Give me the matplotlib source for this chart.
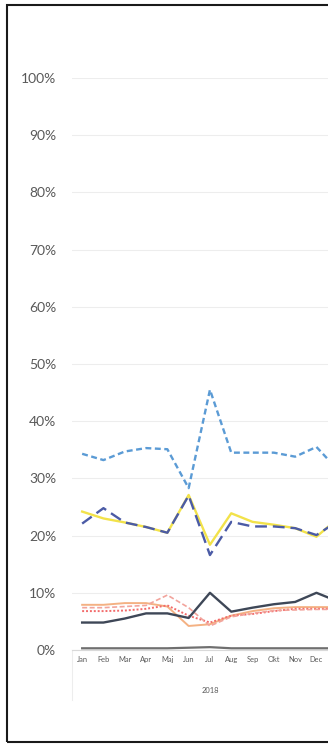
import numpy as np
import matplotlib
matplotlib.use("Agg")
import matplotlib.pyplot as plt
from matplotlib.patches import Rectangle

# Monthly shares (%) for 2018, plus first month of 2019 that runs off the edge
months = ["Jan", "Feb", "Mar", "Apr", "Maj", "Jun", "Jul", "Aug", "Sep", "Okt", "Nov", "Dec", "Jan"]
year_label = "2018"

light_blue = [34.3, 33.2, 34.7, 35.3, 35.1, 28.3, 45.5, 34.5, 34.5, 34.5, 33.8, 35.5, 31.5]
yellow = [24.2, 23.0, 22.3, 21.5, 20.5, 27.1, 18.4, 23.9, 22.4, 21.9, 21.3, 19.8, 23.0]
navy_dash = [22.1, 24.8, 22.3, 21.5, 20.5, 27.0, 16.6, 22.4, 21.6, 21.6, 21.3, 20.1, 22.5]
slate = [4.8, 4.8, 5.5, 6.4, 6.4, 5.6, 10.0, 6.7, 7.4, 8.0, 8.4, 10.0, 8.5]
peach = [7.9, 7.9, 8.2, 8.2, 7.6, 4.2, 4.5, 6.0, 6.8, 7.3, 7.5, 7.5, 7.5]
red_dot = [6.8, 6.8, 6.9, 7.2, 7.8, 6.0, 4.8, 6.0, 6.3, 6.8, 7.2, 7.2, 7.2]
pink_dash = [7.4, 7.4, 7.6, 7.8, 9.6, 7.4, 4.2, 5.8, 6.4, 6.9, 7.0, 7.1, 7.1]
grey_low = [0.3, 0.3, 0.3, 0.3, 0.3, 0.4, 0.5, 0.3, 0.3, 0.3, 0.3, 0.3, 0.3]

yticks = np.arange(0, 101, 10)
ytick_labels = [str(v) + "%" for v in yticks]

plt.rcParams['font.family'] = ['Lato', 'DejaVu Sans']

fig = plt.figure(figsize=(3.28, 7.44), dpi=100)
ax = fig.add_axes([71.5 / 328, 1 - 650 / 744, 1 - 71.5 / 328, (650 - 78) / 744])

x = np.arange(len(months))
ax.plot(x, grey_low, color="#6F6F6F", lw=1.6, zorder=3)
ax.plot(x, light_blue, color="#5B9BD5", lw=1.7, ls=(0, (2.5, 1.5)), zorder=4)
ax.plot(x, yellow, color="#F2E24A", lw=1.7, zorder=4)
ax.plot(x, navy_dash, color="#4B5BA6", lw=1.7, ls=(0, (5, 2.5)), zorder=4)
ax.plot(x, slate, color="#3E4757", lw=1.7, zorder=4)
ax.plot(x, peach, color="#F4B183", lw=1.4, zorder=3)
ax.plot(x, red_dot, color="#F26B6B", lw=1.4, ls=(0, (1, 1)), zorder=3)
ax.plot(x, pink_dash, color="#F2A49C", lw=1.2, ls=(0, (3, 1.5)), zorder=3)

ax.set_xlim(-0.5, (328 - 71.5) / 21.3 - 0.5)
ax.set_ylim(0, 100)
ax.set_yticks(yticks)
ax.set_yticklabels(ytick_labels, fontsize=10, color="#595959")
# only the 2018 months get labels, the next January is off the edge
ax.set_xticks(x[:12])
ax.set_xticklabels(months[:12], fontsize=5.4, color="#595959")
ax.tick_params(axis="y", length=0, pad=11)
ax.tick_params(axis="x", length=0, pad=4)
ax.grid(axis="y", color="#EDEDED", lw=0.8)
ax.set_axisbelow(True)
for side in ["top", "right", "left"]:
    ax.spines[side].set_visible(False)
ax.spines["bottom"].set_color("#D9D9D9")
ax.spines["bottom"].set_linewidth(0.8)

# year row of the category axis
ax.text(6, -7.0, year_label, fontsize=5.4, color="#595959", ha="center", va="center")
ax.plot([-0.5, -0.5], [0, -8.8], color="#EDEDED", lw=0.8, clip_on=False)

# chart frame
fig.patches.append(Rectangle((7 / 328, 2 / 744), 1.2, 737 / 744, transform=fig.transFigure,
                             fill=False, edgecolor="#1A1A1A", lw=1.5))

fig.savefig("out.png", dpi=100)
